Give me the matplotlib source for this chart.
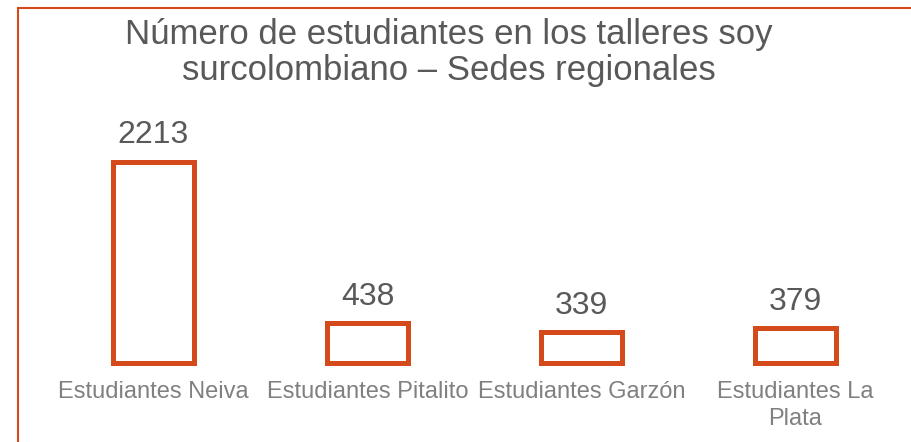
import matplotlib.pyplot as plt
from matplotlib.patches import Rectangle

plt.rcParams['font.family'] = ['Liberation Sans', 'DejaVu Sans']

# data
categories = ["Estudiantes Neiva", "Estudiantes Pitalito", "Estudiantes Garzón", "Estudiantes La\nPlata"]
values = [2213, 438, 339, 379]
title = "Número de estudiantes en los talleres soy\nsurcolombiano – Sedes regionales"

orange = "#D44A1A"
W, H = 912, 442
fig = plt.figure(figsize=(W / 100, H / 100), dpi=100)

# axes placed so bar centres and baseline land where the reference has them
ax = fig.add_axes([46.5 / W, 79 / H, 856 / W, 201.5 / H])
ax.set_xlim(-0.5, len(values) - 0.5)
ax.set_ylim(0, max(values))
ax.axis("off")

x = range(len(values))
ax.bar(x, values, width=0.374, facecolor="white", edgecolor=orange,
       linewidth=3.6, clip_on=False)

for i, v in enumerate(values):
    ax.annotate(str(v), (i, v), xytext=(0, 13.3), textcoords="offset points",
                ha="center", va="baseline", fontsize=23, color="#595959")
    ax.annotate(categories[i], (i, 0), xytext=(0, -13.3), textcoords="offset points",
                ha="center", va="top", fontsize=17, color="#808080",
                multialignment="center", linespacing=1.26)

# va=baseline on multi-line text aligns the last line
fig.text(449 / W, 1 - 80 / H, title, ha="center", va="baseline",
         fontsize=25, color="#595959", multialignment="center", linespacing=1.1)

# orange frame around the chart (right and bottom run off the image)
fig.patches.append(Rectangle((18 / W, -0.1), 1.2, 1.1 - 8.5 / H, transform=fig.transFigure,
                             fill=False, edgecolor=orange, linewidth=1.5, clip_on=False))

fig.savefig("out.png", dpi=100)
